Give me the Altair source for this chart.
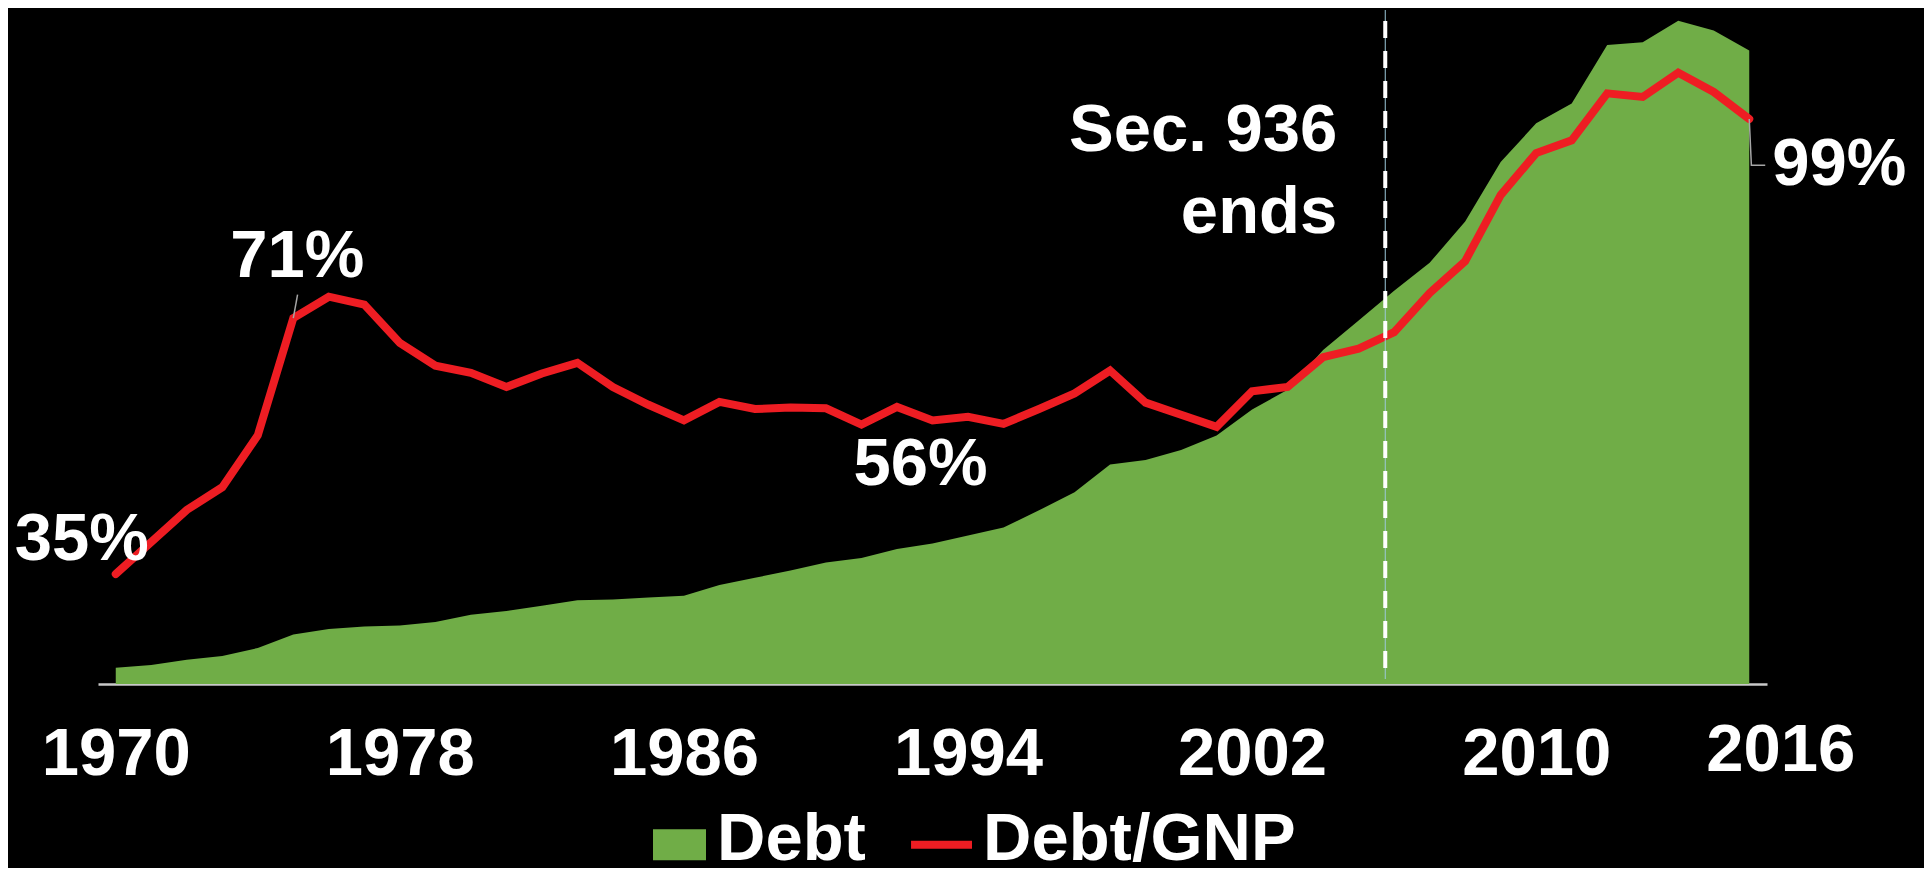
import altair as alt
import pandas as pd

# ---------------- data ----------------
years = list(range(1970, 2017))
debt_bn = [1.8, 2.1, 2.7, 3.1, 4.0, 5.5, 6.1, 6.4, 6.5, 6.9,
           7.7, 8.1, 8.7, 9.3, 9.4, 9.6, 9.8, 11.0, 11.8, 12.6,
           13.5, 14.0, 15.0, 15.6, 16.5, 17.4, 19.3, 21.3, 24.4, 24.9,
           26.0, 27.6, 30.5, 32.7, 37.1, 40.4, 43.7, 46.8, 51.4, 58.0,
           62.3, 64.5, 71.0, 71.3, 73.7, 72.6, 70.4]
debt_gnp_pct = [35.0, 39.5, 44.0, 47.2, 54.5, 71.0, 74.0, 72.9, 67.5, 64.3,
                63.3, 61.3, 63.2, 64.7, 61.3, 58.8, 56.6, 59.2, 58.2, 58.4,
                58.3, 56.0, 58.5, 56.6, 57.1, 56.1, 58.2, 60.4, 63.6, 59.1,
                57.4, 55.7, 60.7, 61.3, 65.5, 66.7, 69.0, 74.5, 79.0, 88.3,
                94.2, 96.0, 102.6, 102.1, 105.5, 102.8, 99.0]

tick_years = [1970, 1978, 1986, 1994, 2002, 2010, 2016]
legend_labels = ["Debt", "Debt/GNP"]

sec936_year = [2005.75]
sec936_text = ["Sec. 936\nends"]
sec936_text_pct = [94.5]

label_years = [1970, 1975, 1991, 2016]
label_texts = ["35%", "71%", "56%", "99%"]

lead71_years = [1975.0, 1975.12]
lead71_pcts = [71.0, 74.3]
lead99_years = [2016.0, 2016.06, 2016.45]
lead99_pcts = [99.0, 92.5, 92.5]

# ---------------- styling ----------------
GREEN = "#70AD47"
RED = "#EE1D23"
FONT = "Liberation Sans"
FS = 67
W, H = 1669, 674
X_DOMAIN = [1969.5, 2016.5]
DEBT_DOMAIN = [0, 74.89]
PCT_DOMAIN = [19.52, 114.33]

RECT_PATH = "M-1,-0.395H1V0.775H-1Z"
LINE_PATH = "M-1.3,0.04H1V0.34H-1.3Z"

df = pd.DataFrame({"year": years, "debt": debt_bn, "pct": debt_gnp_pct})

x_scale = alt.Scale(domain=X_DOMAIN, nice=False, zero=False)
debt_scale = alt.Scale(domain=DEBT_DOMAIN, nice=False, zero=False)
pct_scale = alt.Scale(domain=PCT_DOMAIN, nice=False, zero=False)

x_axis = alt.Axis(
    values=tick_years, format="d", title=None, ticks=False, grid=False,
    domainColor="#C9C9C9", domainWidth=2.5,
    labelFont=FONT, labelFontSize=FS, labelFontWeight="bold", labelColor="white",
    labelBaseline="alphabetic", labelAlign="center",
    labelPadding={"condition": {"test": "datum.value == 2016", "value": 86}, "value": 90},
    labelOffset={"condition": {"test": "datum.value == 2016", "value": 31}, "value": 0},
    labelFlush=False, labelOverlap=False, labelBound=False,
)


def xq():
    return alt.X("year:Q", scale=x_scale, axis=x_axis)


def ypct():
    return alt.Y("pct:Q", scale=pct_scale, axis=None)


area = alt.Chart(df).mark_area(color=GREEN).encode(
    x=xq(),
    y=alt.Y("debt:Q", scale=debt_scale, axis=None),
)

line = alt.Chart(df).mark_line(color=RED, strokeWidth=8, strokeCap="round").encode(
    x=xq(), y=ypct()
)

sec_df = pd.DataFrame({"year": sec936_year, "pct": sec936_text_pct, "label": sec936_text})

rule_thin = alt.Chart(sec_df).mark_rule(color="#9CC9DA", strokeWidth=1).encode(
    x=xq(), y=alt.value(0), y2=alt.value(669)
)
rule_dash = alt.Chart(sec_df).mark_rule(color="white", strokeWidth=4, strokeDash=[17, 13]).encode(
    x=xq(), y=alt.value(11), y2=alt.value(658)
)
sec_text = alt.Chart(sec_df).mark_text(
    font=FONT, fontSize=FS, fontWeight="bold", color="white",
    align="right", baseline="alphabetic", dx=-48, lineBreak="\n", lineHeight=82,
).encode(x=xq(), y=ypct(), text="label:N")

lead71 = alt.Chart(pd.DataFrame({"year": lead71_years, "pct": lead71_pcts})).mark_line(
    color="#A6A6A6", strokeWidth=1.5).encode(x=xq(), y=ypct())
lead99 = alt.Chart(pd.DataFrame({"year": lead99_years, "pct": lead99_pcts})).mark_line(
    color="#A6A6A6", strokeWidth=1.5).encode(x=xq(), y=ypct())


def label_layer(i, align, dx, dy):
    yr = label_years[i]
    d = pd.DataFrame({"year": [yr], "pct": [debt_gnp_pct[years.index(yr)]], "label": [label_texts[i]]})
    return alt.Chart(d).mark_text(
        font=FONT, fontSize=FS, fontWeight="bold", color="white",
        align=align, baseline="alphabetic", dx=dx, dy=dy,
    ).encode(x=xq(), y=ypct(), text="label:N")


lab35 = label_layer(0, "right", 33, -14)
lab71 = label_layer(1, "center", 4, -41)
lab56 = label_layer(2, "left", -8, 60)
lab99 = label_layer(3, "left", 23, 66)

legend_cfg = dict(
    title=None, orient="none", legendX=548, legendY=796, direction="horizontal",
    labelFont=FONT, labelFontSize=FS, labelFontWeight="bold", labelColor="white",
    symbolSize=2809, symbolOpacity=1, symbolStrokeWidth=0, labelOffset=4,
    columnPadding=45, labelLimit=0, padding=0, labelBaseline="middle",
)
legend_layer = alt.Chart(pd.DataFrame({"series": legend_labels})).mark_point(
    filled=True, opacity=0).encode(
    color=alt.Color("series:N", scale=alt.Scale(domain=legend_labels, range=[GREEN, RED]),
                    legend=alt.Legend(**legend_cfg)),
    shape=alt.Shape("series:N", scale=alt.Scale(domain=legend_labels, range=[RECT_PATH, LINE_PATH]),
                    legend=alt.Legend(**legend_cfg)),
)

chart = alt.layer(
    area, line, rule_thin, rule_dash, sec_text, lead71, lead99,
    lab35, lab71, lab56, lab99, legend_layer,
).resolve_scale(y="independent").properties(
    width=W, height=H, background="black",
    padding={"left": 90, "top": 2, "right": 157, "bottom": 184},
    autosize=alt.AutoSizeParams(type="none"),
).configure_view(strokeWidth=0)

chart.save("out.html", embed_options={"renderer": "svg", "actions": False})
